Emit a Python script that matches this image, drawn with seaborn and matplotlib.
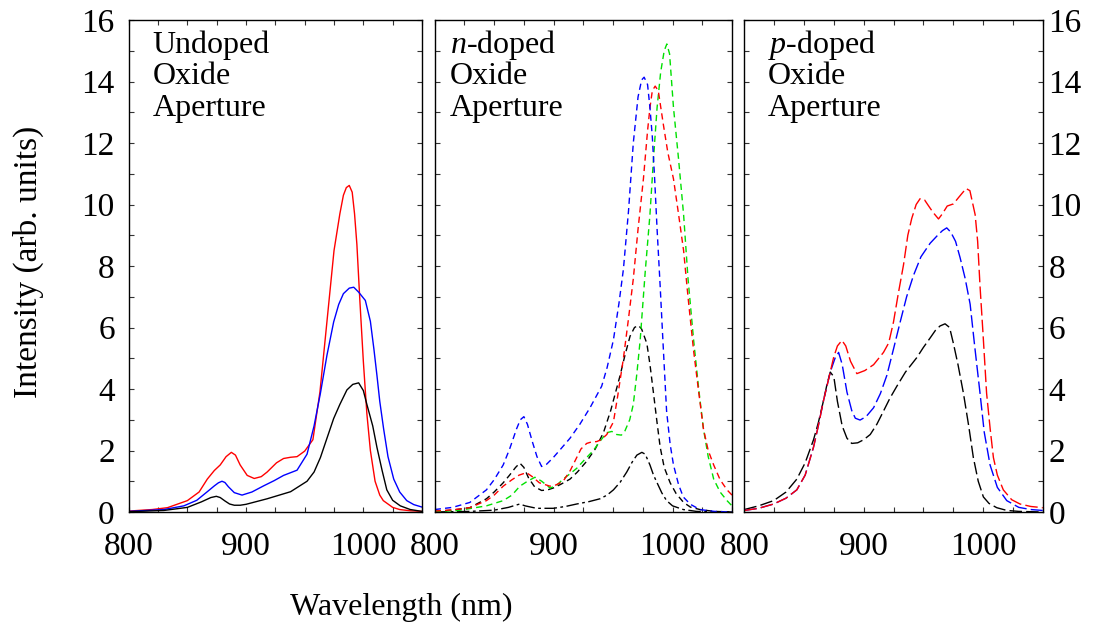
import matplotlib
matplotlib.use("Agg")
import matplotlib.pyplot as plt
import seaborn as sns
from matplotlib.ticker import MultipleLocator, FixedLocator

# ---------------- data ----------------
# Undoped (solid)
u_red_x = [800, 820, 833, 850, 860, 867, 873, 878, 883, 887.5, 891, 895, 901, 907, 913, 918, 926, 932, 938, 943.5,
           950, 957, 963, 969, 975, 980, 983, 985.5, 988, 990.5, 992.5, 994.5, 997, 1000, 1003, 1006, 1010, 1014,
           1017, 1025, 1031, 1040, 1050]
u_red_y = [0.03, 0.08, 0.14, 0.37, 0.65, 1.07, 1.35, 1.53, 1.8, 1.94, 1.85, 1.53, 1.19, 1.09, 1.15, 1.3, 1.6, 1.74,
           1.78, 1.8, 1.98, 2.35, 3.9, 6.2, 8.5, 9.7, 10.3, 10.55, 10.62, 10.4, 9.7, 8.7, 6.9, 4.9, 3.2, 2.0, 1.0,
           0.55, 0.37, 0.15, 0.08, 0.04, 0.02]
u_blue_x = [800, 830, 847, 858, 867, 873, 876.5, 879.5, 882, 885, 890, 896.6, 905, 915, 924, 932, 943.5, 952, 958,
            963.4, 969, 974.7, 979, 983, 988, 991.8, 996, 1001.7, 1006, 1009, 1011.6, 1014, 1017.3, 1021, 1025.9,
            1031, 1037, 1043, 1050]
u_blue_y = [0.02, 0.08, 0.2, 0.38, 0.66, 0.85, 0.95, 1.0, 0.96, 0.82, 0.63, 0.55, 0.65, 0.85, 1.02, 1.19, 1.36,
            1.88, 2.8, 3.86, 5.1, 6.18, 6.75, 7.1, 7.28, 7.31, 7.15, 6.88, 6.2, 5.3, 4.44, 3.6, 2.7, 1.8, 1.07, 0.65,
            0.37, 0.24, 0.16]
u_black_x = [800, 830, 850, 862, 866, 870, 874.7, 878, 882, 886, 890, 895, 900, 918, 938, 952, 958, 963.4, 969,
             974.7, 980, 986, 991, 996, 1000, 1003, 1008, 1011.6, 1016, 1020, 1025, 1031.5, 1040, 1050]
u_black_y = [0.01, 0.05, 0.15, 0.33, 0.4, 0.47, 0.51, 0.47, 0.36, 0.26, 0.22, 0.22, 0.25, 0.43, 0.66, 1.0, 1.3,
             1.77, 2.4, 3.04, 3.5, 3.97, 4.15, 4.2, 3.95, 3.5, 2.8, 2.1, 1.35, 0.72, 0.38, 0.2, 0.08, 0.02]

# n-doped (dashed)
n_blue_x = [800, 815, 829.5, 843.5, 850, 857.6, 863, 868.8, 872, 875, 878, 882, 886, 889.9, 894, 899.7, 906, 913.8,
            922, 930.6, 940.4, 945, 950.3, 955, 958.7, 963, 967, 971, 974, 976.1, 979, 981, 983, 985, 987, 989.6,
            992, 995, 998, 1000.8, 1005, 1009, 1015, 1023, 1035, 1050]
n_blue_y = [0.08, 0.15, 0.31, 0.72, 1.05, 1.53, 2.05, 2.7, 3.0, 3.1, 2.85, 2.3, 1.8, 1.48, 1.55, 1.77, 2.05, 2.4,
            2.85, 3.39, 4.09, 4.7, 5.6, 6.8, 7.9, 9.8, 12.0, 13.5, 14.05, 14.14, 13.9, 13.15, 12.2, 10.8, 9.2, 7.34,
            5.5, 3.28, 2.2, 1.53, 0.9, 0.49, 0.25, 0.08, 0.02, 0.0]
n_red_x = [800, 815, 829.5, 843.5, 850, 857.6, 865, 871, 877.2, 882, 888, 896.9, 902, 908, 914, 919.4, 923, 927.8,
           932, 936.2, 940, 944.7, 950.3, 954, 958.7, 963, 967, 971, 975.5, 979, 981, 983, 985.4, 988, 992.4, 996,
           1000.8, 1005, 1009.3, 1013, 1017.7, 1022, 1026, 1030, 1034.6, 1040, 1045.8, 1050]
n_red_y = [0.03, 0.07, 0.14, 0.37, 0.55, 0.84, 1.05, 1.2, 1.28, 1.15, 0.95, 0.84, 0.88, 1.0, 1.35, 1.77, 2.05, 2.23,
           2.28, 2.29, 2.35, 2.52, 2.93, 3.8, 5.0, 6.3, 7.58, 9.2, 10.83, 12.4, 13.15, 13.7, 13.85, 13.7, 12.57,
           11.7, 10.83, 9.7, 8.5, 7.0, 5.25, 3.9, 2.7, 2.0, 1.53, 1.05, 0.72, 0.55]
n_green_x = [800, 820, 843.5, 857.6, 865, 871.6, 878, 884.3, 890, 897, 902, 908, 914, 919.4, 926, 933.4, 940, 944.7,
             949, 953, 957, 960, 964, 967, 970, 972.8, 977, 981, 984, 987, 990, 993, 995.2, 997.5, 1000.8, 1005,
             1009.3, 1013, 1017.7, 1022, 1026, 1030, 1034.6, 1040, 1045.8, 1050]
n_green_y = [0.01, 0.05, 0.2, 0.37, 0.55, 0.84, 1.0, 1.13, 1.0, 0.78, 0.85, 1.07, 1.25, 1.42, 1.7, 2.0, 2.35, 2.58,
             2.62, 2.52, 2.5, 2.64, 3.0, 3.5, 4.5, 5.6, 7.8, 9.67, 11.5, 13.15, 14.3, 15.0, 15.22, 14.9, 13.15, 11.5,
             9.67, 7.6, 5.6, 4.0, 2.7, 1.8, 1.07, 0.65, 0.37, 0.2]
n_black_x = [800, 815, 829.5, 843.5, 850, 857.6, 863, 868, 871.6, 875, 879, 884, 889.9, 895, 899.7, 906, 913.8, 920,
             927.8, 935, 941.9, 948, 955.9, 960, 964.3, 968, 971.3, 974, 978.4, 981, 984, 987, 989.6, 993, 998, 1003,
             1009.3, 1015, 1023, 1035, 1050]
n_black_y = [0.02, 0.06, 0.14, 0.43, 0.65, 0.95, 1.2, 1.45, 1.59, 1.45, 1.1, 0.82, 0.70, 0.72, 0.78, 0.9, 1.07, 1.3,
             1.65, 2.05, 2.58, 3.3, 4.44, 5.1, 5.72, 6.0, 6.07, 5.95, 5.48, 4.8, 3.86, 2.9, 2.11, 1.45, 0.95, 0.6,
             0.31, 0.16, 0.08, 0.02, 0.0]
n_black2_x = [800, 830, 850, 862, 868, 871.6, 876, 885.7, 899.7, 910, 919.4, 930, 939, 945, 950.3, 956, 961.5, 966,
              970, 974.2, 977, 981, 984, 987, 991, 995, 1000, 1009, 1020, 1035, 1050]
n_black2_y = [0.0, 0.02, 0.06, 0.15, 0.22, 0.26, 0.2, 0.12, 0.12, 0.18, 0.26, 0.34, 0.43, 0.55, 0.72, 0.97, 1.3,
              1.62, 1.85, 1.94, 1.88, 1.53, 1.2, 0.95, 0.62, 0.37, 0.2, 0.08, 0.02, 0.0, 0.0]

# p-doped (long dashes)
p_red_x = [800, 812, 824.6, 835, 844, 851, 858, 862, 866.4, 870.5, 874.8, 878, 881.8, 885, 889, 894.3, 901, 908.3,
           916.6, 921, 925, 929, 933.4, 937, 940.3, 944, 947.3, 951, 954.3, 958, 962.7, 966, 970, 975.2, 980, 985.8,
           989, 993.4, 995.5, 997.5, 1000, 1003, 1006, 1008.7, 1012, 1017, 1024, 1031, 1040, 1050]
p_red_y = [0.05, 0.12, 0.26, 0.45, 0.72, 1.2, 2.11, 2.8, 3.63, 4.3, 5.02, 5.4, 5.58, 5.4, 4.9, 4.5, 4.6, 4.79, 5.19,
           5.5, 6.18, 7.1, 8.04, 9.0, 9.55, 10.0, 10.19, 10.15, 9.96, 9.75, 9.53, 9.7, 9.95, 10.02, 10.25, 10.52,
           10.45, 9.67, 8.8, 7.34, 5.8, 3.86, 2.7, 1.77, 1.2, 0.72, 0.4, 0.26, 0.18, 0.14]
p_blue_x = [800, 812, 824.6, 835, 844, 851, 858, 862, 866.4, 872, 876, 879, 882, 886, 890, 893, 897, 902, 908.3, 914,
            919.4, 925, 930.6, 936, 941.7, 948, 955.7, 962, 966, 969.6, 973, 977, 980.8, 985, 989.2, 993, 997.5, 1001,
            1005.9, 1012, 1019.9, 1030, 1040, 1050]
p_blue_y = [0.05, 0.12, 0.26, 0.45, 0.72, 1.2, 2.11, 2.8, 3.63, 4.55, 5.0, 5.19, 4.8, 3.9, 3.3, 3.05, 2.99, 3.1, 3.39,
            3.85, 4.44, 5.3, 6.18, 7.0, 7.69, 8.3, 8.74, 9.0, 9.15, 9.24, 9.1, 8.8, 8.27, 7.6, 6.76, 5.4, 3.86, 2.6,
            1.53, 0.8, 0.37, 0.15, 0.08, 0.05]
p_black_x = [800, 812, 824.6, 835, 844, 851, 858, 862, 866.4, 869, 872, 875, 878, 882, 886, 890, 895, 900, 905.5, 911,
             916.6, 922, 927.8, 935, 944.5, 950, 955.7, 960, 964, 968.2, 972, 975.2, 979, 983.6, 988, 991.9, 996,
             1000.3, 1005, 1011.5, 1020, 1030, 1040, 1050]
p_black_y = [0.08, 0.2, 0.37, 0.65, 1.07, 1.6, 2.35, 2.9, 3.63, 4.1, 4.55, 4.4, 3.6, 2.8, 2.4, 2.23, 2.25, 2.35, 2.52,
             2.85, 3.28, 3.7, 4.09, 4.55, 5.02, 5.35, 5.66, 5.9, 6.05, 6.12, 6.0, 5.48, 4.8, 3.86, 2.8, 1.77, 1.0,
             0.49, 0.28, 0.14, 0.05, 0.02, 0.01, 0.0]

panel_labels = [["Undoped", "Oxide", "Aperture"],
                ["$n$-doped", "Oxide", "Aperture"],
                ["$p$-doped", "Oxide", "Aperture"]]
x_ticklabels = [800, 900, 1000]
y_ticklabels = [0, 2, 4, 6, 8, 10, 12, 14, 16]

# ---------------- style ----------------
sns.set_theme(style="ticks")
plt.rcParams['font.family'] = ['Liberation Serif', 'DejaVu Serif']
plt.rcParams['mathtext.fontset'] = 'custom'
plt.rcParams['mathtext.rm'] = 'Liberation Serif'
plt.rcParams['mathtext.it'] = 'Liberation Serif:italic'
plt.rcParams['text.color'] = 'black'

FS = 24
GREEN = '#00e000'
SHORT = (0, (4.5, 3))
LONG = (0, (9, 3))
DASHDOT = (0, (9, 2.5, 2, 2.5))

fig = plt.figure(figsize=(10.95, 6.3), dpi=100)
W, H = 1095, 630
bottom_px, top_px = 512, 20
boxes = [(128.7, 422.0), (434.7, 732.0), (744.3, 1042.7)]
axes = []
for (l, r) in boxes:
    ax = fig.add_axes([l / W, (H - bottom_px) / H, (r - l) / W, (bottom_px - top_px) / H])
    axes.append(ax)

series = [
    [(u_red_x, u_red_y, 'red', '-'), (u_blue_x, u_blue_y, 'blue', '-'), (u_black_x, u_black_y, 'black', '-')],
    [(n_black2_x, n_black2_y, 'black', DASHDOT), (n_black_x, n_black_y, 'black', SHORT),
     (n_green_x, n_green_y, GREEN, SHORT), (n_red_x, n_red_y, 'red', SHORT), (n_blue_x, n_blue_y, 'blue', SHORT)],
    [(p_black_x, p_black_y, 'black', LONG), (p_blue_x, p_blue_y, 'blue', LONG), (p_red_x, p_red_y, 'red', LONG)],
]

text_x = [0.082, 0.052, 0.08]
for i, ax in enumerate(axes):
    for (xs, ys, c, ls) in series[i]:
        sns.lineplot(x=xs, y=ys, ax=ax, color=c, linestyle=ls, linewidth=1.0, sort=False, estimator=None)
    ax.set_xlim(800, 1050)
    ax.set_ylim(0, 16)
    ax.xaxis.set_major_locator(FixedLocator(x_ticklabels))
    ax.xaxis.set_minor_locator(MultipleLocator(25))
    ax.yaxis.set_major_locator(FixedLocator(y_ticklabels))
    ax.yaxis.set_minor_locator(MultipleLocator(1))
    ax.tick_params(which='both', direction='in', top=True, bottom=True, left=True, right=True,
                   length=3.5, width=0.8, color='#333333', labelsize=FS, labelcolor='black')
    ax.tick_params(axis='x', pad=14)
    if i == 0:
        ax.tick_params(axis='y', labelleft=True, labelright=False, pad=10)
    elif i == 1:
        ax.tick_params(axis='y', labelleft=False, labelright=False)
    else:
        ax.tick_params(axis='y', labelleft=False, labelright=True, pad=4)
    ax.set_xticklabels([str(v) for v in x_ticklabels])
    for sp in ax.spines.values():
        sp.set_color('black')
        sp.set_linewidth(1.0)
        sp.set_visible(True)
    ax.set_xlabel('')
    ax.set_ylabel('')
    for k, t in enumerate(panel_labels[i]):
        ax.text(text_x[i], 0.949 - 0.064 * k, t, transform=ax.transAxes, fontsize=FS - 1,
                ha='left', va='center', color='black')

fig.text(401 / W, 1 - 607 / H, 'Wavelength (nm)', ha='center', va='center', fontsize=FS - 1, color='black')
fig.text(28 / W, 1 - 262 / H, 'Intensity (arb. units)', ha='center', va='center', rotation=90, fontsize=FS,
         color='black')

fig.savefig('out.png', dpi=100)
